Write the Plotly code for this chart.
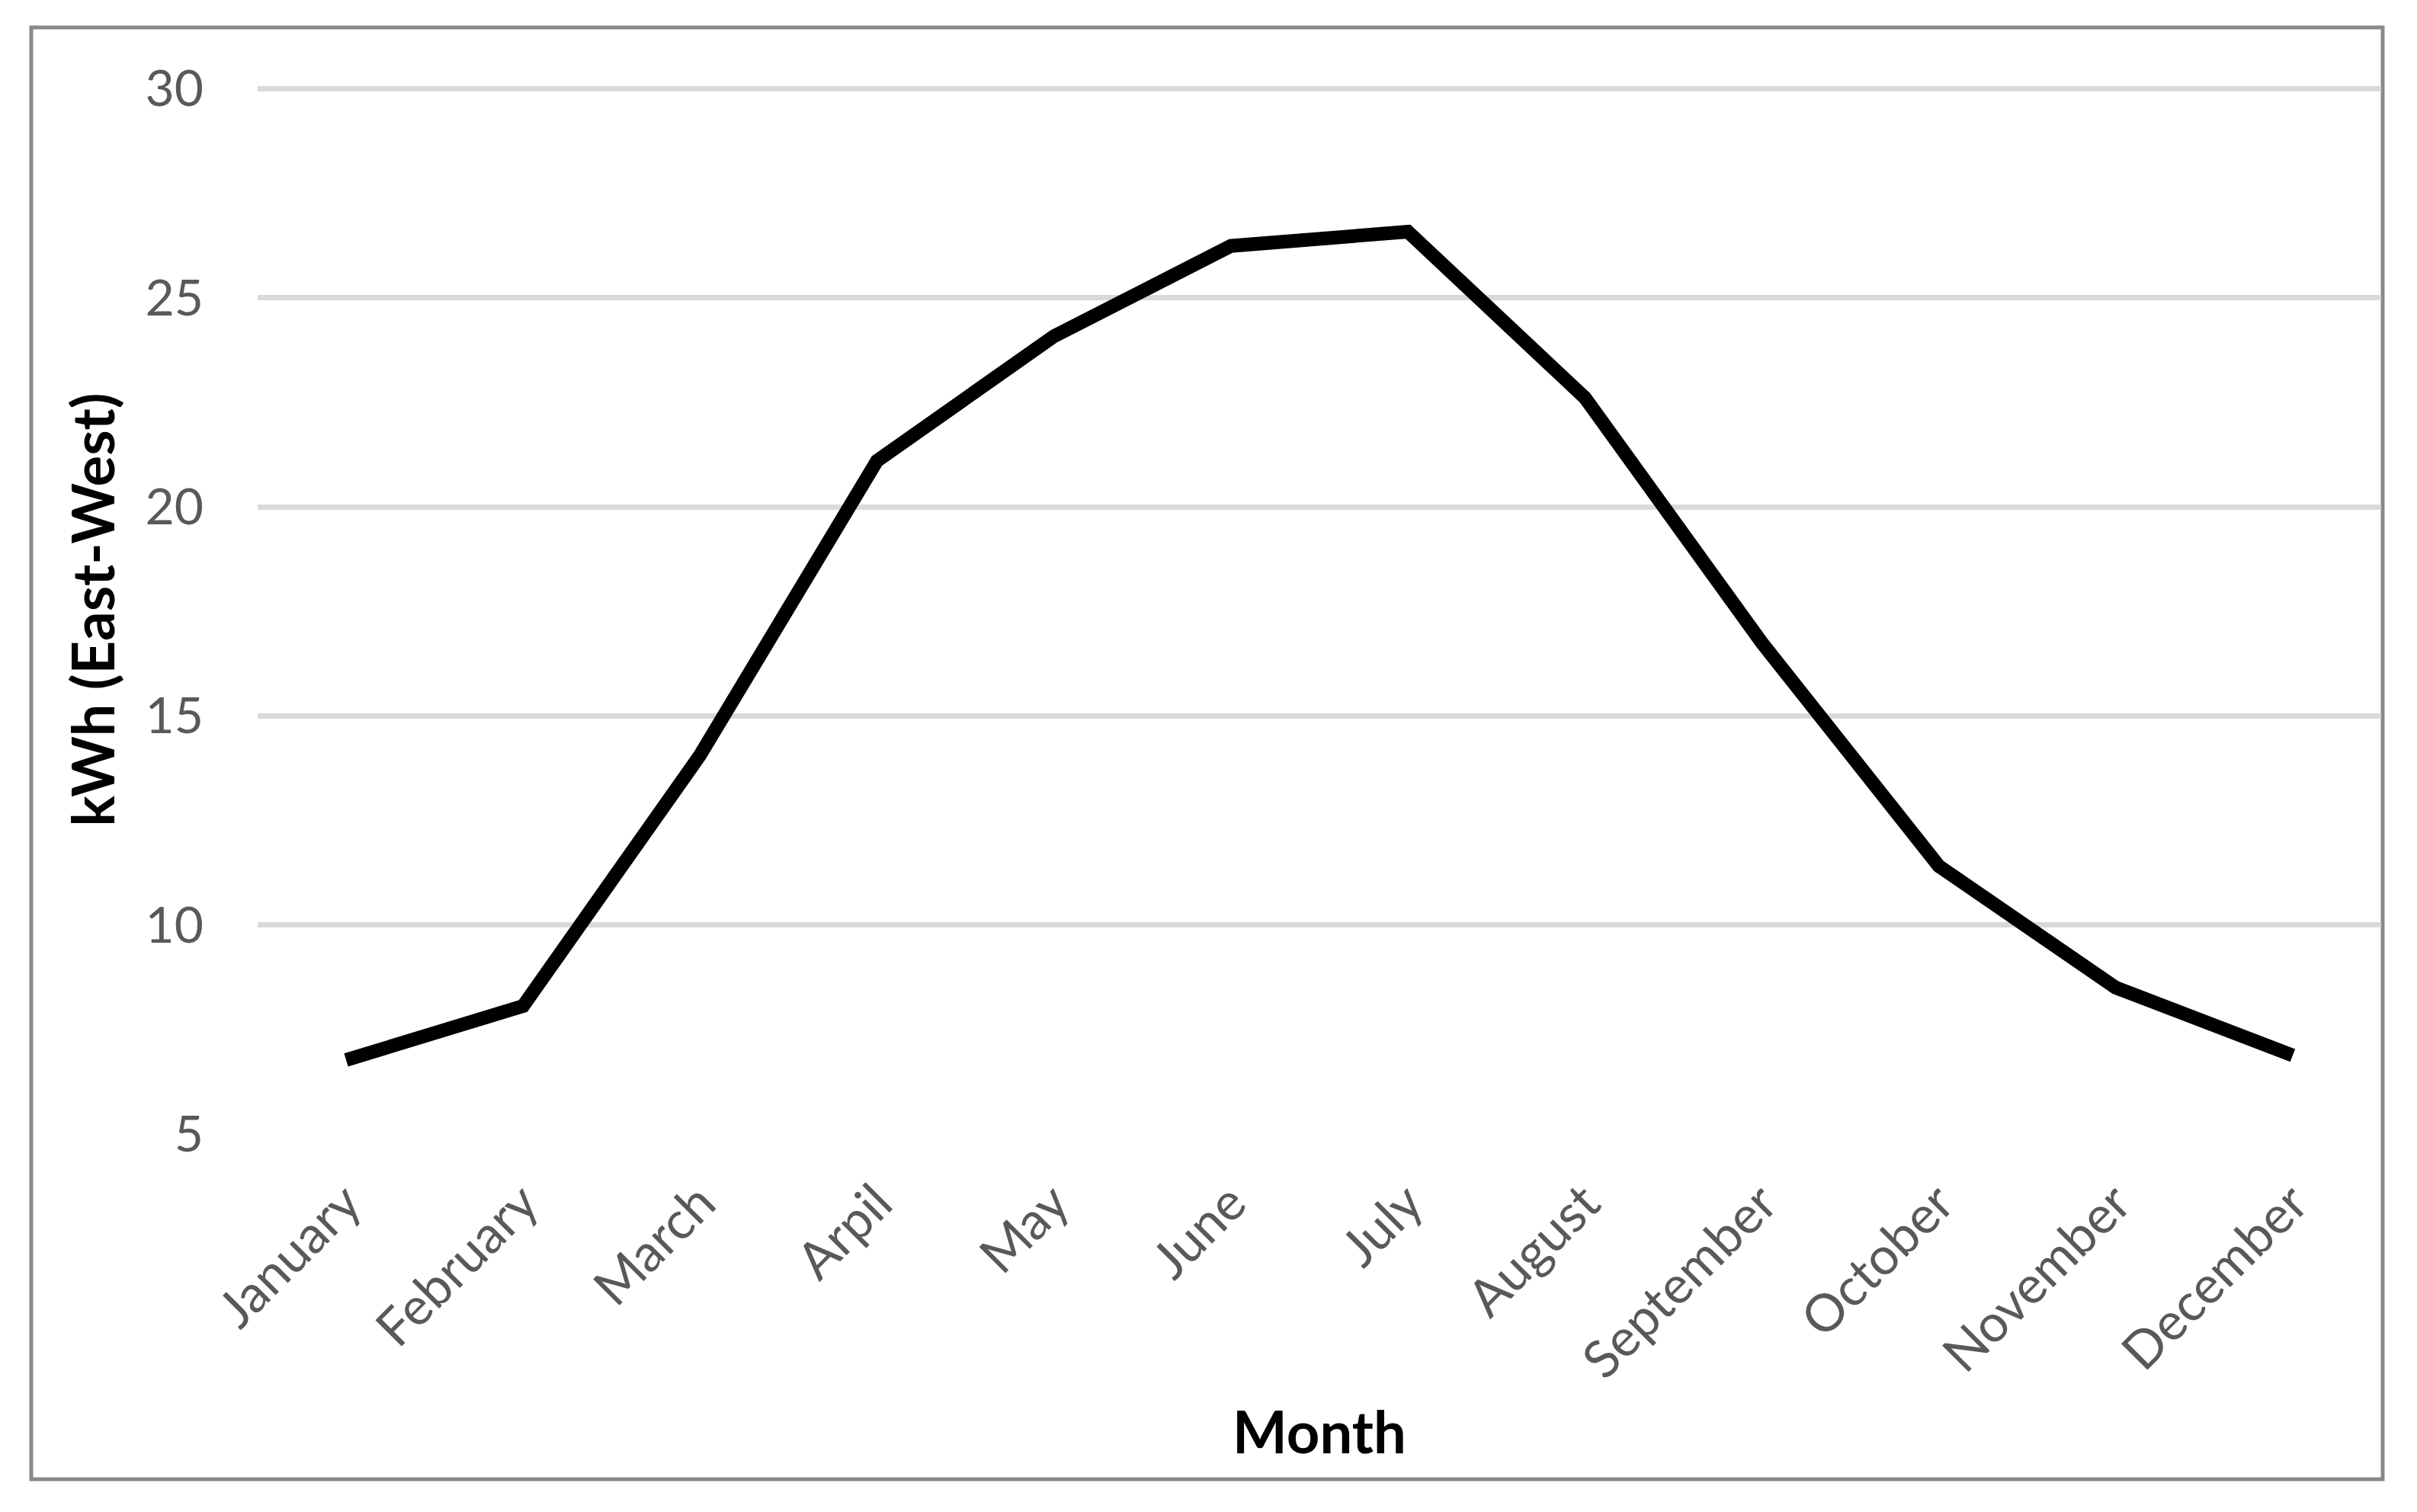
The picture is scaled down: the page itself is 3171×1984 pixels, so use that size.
import plotly.graph_objects as go

months = ["January", "February", "March", "Arpil", "May", "June", "July",
          "August", "September", "October", "November", "December"]
kwh_east_west = [6.77, 8.06, 14.06, 21.1, 24.08, 26.24, 26.58,
                 22.61, 16.75, 11.41, 8.5, 6.88]
y_ticks = [5, 10, 15, 20, 25, 30]

W, H = 3171, 1984
L, R, T, B = 338, 47, 112, 496

fig = go.Figure()
fig.add_trace(go.Scatter(
    x=months, y=kwh_east_west, mode="lines",
    line=dict(color="#000000", width=18),
    showlegend=False, hoverinfo="skip",
))

pw = W - L - R
ph = H - T - B
bx0, bx1, by0, by1 = 41, 3126, 36, 1941
fig.add_shape(
    type="rect", xref="paper", yref="paper",
    x0=(bx0 - L) / pw, x1=(bx1 - L) / pw,
    y0=(H - B - by1) / ph, y1=(H - B - by0) / ph,
    line=dict(color="#898989", width=5), fillcolor="rgba(0,0,0,0)",
    layer="below",
)

fig.update_layout(
    width=W, height=H,
    margin=dict(l=L, r=R, t=T, b=B, pad=0),
    paper_bgcolor="white", plot_bgcolor="white",
    font=dict(family="Lato, Carlito, Calibri, sans-serif", color="#595959"),
    xaxis=dict(
        type="category", range=[-0.5, 11.5],
        showgrid=False, zeroline=False, showline=False,
        ticks="", tickangle=-45,
        tickfont=dict(size=68, color="#595959"),
        ticklabelstandoff=36,
        title=dict(text="<b>Month</b>", font=dict(size=76, color="#000000"), standoff=32),
    ),
    yaxis=dict(
        range=[5, 30.08], tickvals=y_ticks,
        showgrid=True, gridcolor="#d9d9d9", gridwidth=6.5,
        zeroline=False, showline=False, ticks="",
        tickfont=dict(size=66, color="#595959"),
        ticklabelstandoff=70,
        title=dict(text="<b>kWh (East-West)</b>", font=dict(size=76, color="#000000"), standoff=14),
    ),
)

fig.write_html("out.html", config={"displayModeBar": False},
               post_script="document.body.style.margin='0';document.body.style.overflow='hidden';")
